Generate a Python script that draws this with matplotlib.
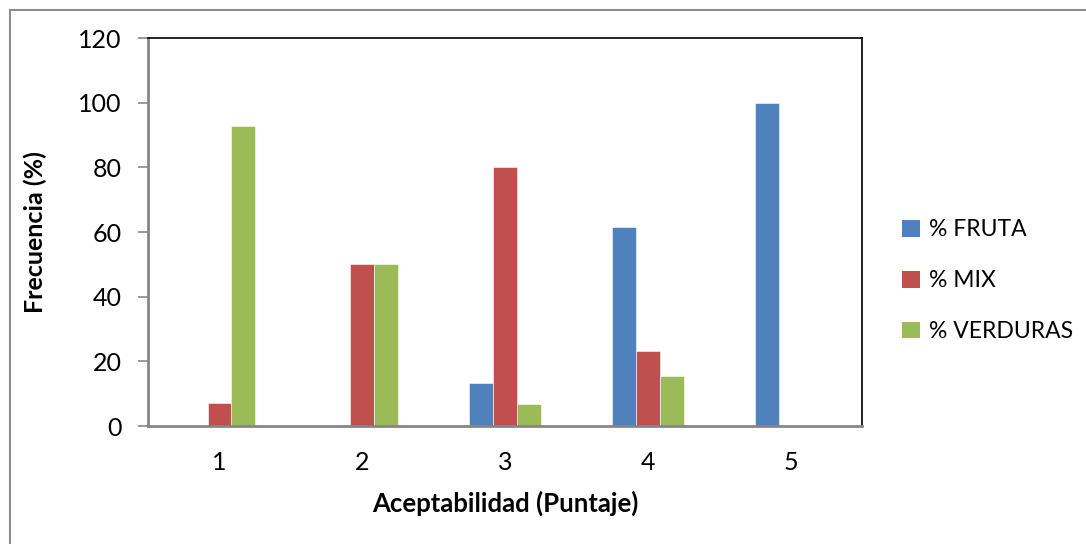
import matplotlib
matplotlib.use("Agg")
import matplotlib.pyplot as plt
import numpy as np
from matplotlib.lines import Line2D
from matplotlib.patches import Patch

plt.rcParams['font.family'] = ['Lato', 'DejaVu Sans']

categories = ["1", "2", "3", "4", "5"]
series_names = ["% FRUTA", "% MIX", "% VERDURAS"]
fruta = [0, 0, 13.3, 61.5, 100]
mix = [7.1, 50, 80, 23.1, 0]
verduras = [92.9, 50, 6.7, 15.4, 0]
colors = ["#4F81BD", "#C0504D", "#9BBB59"]
yticks = [0, 20, 40, 60, 80, 100, 120]

W, H = 1086, 544
fig = plt.figure(figsize=(W / 100, H / 100), dpi=100)
ax = fig.add_axes([148 / W, (H - 426) / H, (862 - 148) / W, (426 - 38) / H])

x = np.arange(len(categories))
bw = 1 / 6
for i, (vals, name) in enumerate(zip([fruta, mix, verduras], series_names)):
    ax.bar(x + (i - 1) * bw, vals, width=bw, color=colors[i], label=name,
           edgecolor="white", linewidth=0.4)

ax.set_xlim(-0.5, len(categories) - 0.5)
ax.set_ylim(0, 120)
ax.set_yticks(yticks)
ax.set_xticks(x)
ax.set_xticklabels(categories)
ax.tick_params(axis='y', length=7, width=1.2, color="#868686", labelsize=18, pad=12)
ax.tick_params(axis='x', length=0, labelsize=18, pad=18)

for s in ['left', 'bottom']:
    ax.spines[s].set_color("#868686")
    ax.spines[s].set_linewidth(2)
for s in ['top', 'right']:
    ax.spines[s].set_color("black")
    ax.spines[s].set_linewidth(1.2)

ax.set_xlabel("Aceptabilidad (Puntaje)", fontsize=18.5, fontweight='bold', labelpad=12)
fig.text(35 / W, 1 - 232 / H, "Frecuencia (%)", rotation=90, fontsize=18,
         fontweight='bold', ha='center', va='center')

handles = [Patch(facecolor=c) for c in colors]
fig.legend(handles, series_names, loc='upper left', bbox_to_anchor=(891 / W, 1 - 208 / H),
           frameon=False, fontsize=16.5, handlelength=0.75, handleheight=0.75,
           handletextpad=0.4, labelspacing=1.3, borderpad=0)

# outer chart border
fig.add_artist(Line2D([9.5 / W, 1], [1 - 9.5 / H, 1 - 9.5 / H], transform=fig.transFigure,
                      color="#8c8c8c", linewidth=1.5))
fig.add_artist(Line2D([9.5 / W, 9.5 / W], [0, 1 - 9.5 / H], transform=fig.transFigure,
                      color="#8c8c8c", linewidth=1.5))

fig.savefig("out.png", dpi=100)
